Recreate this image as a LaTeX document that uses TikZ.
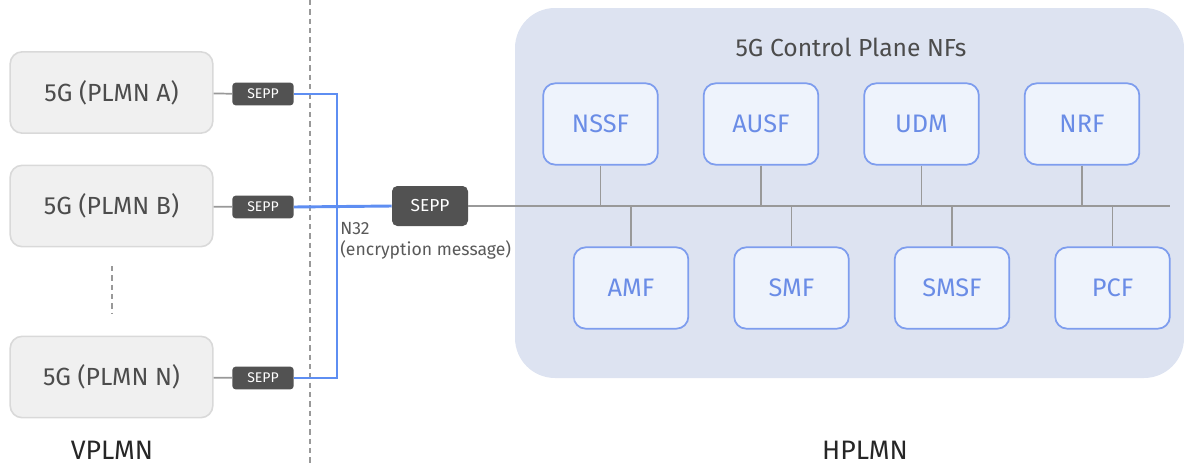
\documentclass[tikz,border=0pt]{standalone}
\usepackage{fontspec}
\setmainfont{Fira Sans}
\begin{document}
\begin{tikzpicture}[x=0.75pt,y=-0.75pt,
  plmn/.style={draw=black!15,fill=black!6,line width=1.2pt,rounded corners=9pt,
    minimum width=152pt,minimum height=61pt,inner sep=0pt,text=black!70,font=\fontsize{18.6}{22}\selectfont},
  sepps/.style={fill=black!68,rounded corners=2.5pt,minimum width=46pt,minimum height=17pt,
    inner sep=0pt,text=white,font=\fontsize{10.5}{12}\selectfont},
  seppb/.style={fill=black!68,rounded corners=4pt,minimum width=57pt,minimum height=30pt,
    inner sep=0pt,text=white,font=\fontsize{13}{15}\selectfont},
  nf/.style={draw=nfline,fill=nffill,line width=1.3pt,rounded corners=9pt,
    minimum width=86pt,minimum height=61pt,inner sep=0pt,text=nftext,font=\fontsize{19}{22}\selectfont},
  link/.style={draw=black!40,line width=1.3pt},
  n32/.style={draw=n32blue,line width=2.2pt},
  caption/.style={text=black!85,inner sep=0pt,anchor=base,font=\fontsize{20}{24}\selectfont}]
\definecolor{nfline}{HTML}{7E9DEE}
\definecolor{nffill}{HTML}{EEF3FC}
\definecolor{nftext}{HTML}{6A8CE6}
\definecolor{region}{HTML}{DDE3F1}
\definecolor{n32blue}{HTML}{5E8EF2}
\useasboundingbox (0,0) rectangle (1184,464);

% home network region
\fill[region,rounded corners=30pt] (515,8) rectangle (1184,378);
\node[text=black!70,font=\fontsize{18.5}{22}\selectfont] (title) at (851,47) {5G Control Plane NFs};

% border between visited and home networks
\draw[black!40,line width=1.2pt,dash pattern=on 4pt off 3pt] (310,0) -- (310,464);

% visited networks
\node[plmn] (pa) at (111.5,92.5) {5G (PLMN A)};
\node[plmn] (pb) at (111.5,206) {5G (PLMN B)};
\node[plmn] (pn) at (111.5,377) {5G (PLMN N)};
\coordinate (d1) at (112,266);
\coordinate (d2) at (112,314);
\draw[black!40,line width=1.2pt,dash pattern=on 4pt off 3pt] (d1) -- (d2);

\node[sepps] (sa) at (263,94) {SEPP};
\node[sepps] (sb) at (263,207) {SEPP};
\node[sepps] (sn) at (263,378) {SEPP};
\draw[link] (pa) -- (sa);
\draw[link] (pb) -- (sb);
\draw[link] (pn) -- (sn);

\node[seppb] (sh) at (430,206) {SEPP};

% N32 interconnect
\coordinate (jt) at (337,94);
\coordinate (jb) at (337,378);
\draw[n32] (sa.east) -- (jt) -- (jb) -- (sn.east);
\draw[n32] (sb.east) -- (sh.west);
\node[anchor=north west,align=left,text=black!65,inner sep=0pt,
  font=\fontsize{13.2}{16}\selectfont] (lbl) at (340,222) {N32\\(encryption message)};

% service bus
\coordinate (busend) at (1170,206);
\draw[link] (sh.east) -- (busend);

% network functions
\node[nf] (nssf) at (600.5,124) {NSSF};
\node[nf] (ausf) at (761,124) {AUSF};
\node[nf] (udm)  at (921.5,124) {UDM};
\node[nf] (nrf)  at (1082,124) {NRF};
\node[nf] (amf)  at (631,288) {AMF};
\node[nf] (smf)  at (791.5,288) {SMF};
\node[nf] (smsf) at (952,288) {SMSF};
\node[nf] (pcf)  at (1112.5,288) {PCF};

\foreach \f in {nssf,ausf,udm,nrf}
  \draw[link] (\f.south) -- (\f.south |- busend);
\foreach \f in {amf,smf,smsf,pcf}
  \draw[link] (\f.north) -- (\f.north |- busend);

% captions
\node[caption] (vp) at (112,459) {VPLMN};
\node[caption] (hp) at (865,459) {HPLMN};
\end{tikzpicture}
\end{document}
